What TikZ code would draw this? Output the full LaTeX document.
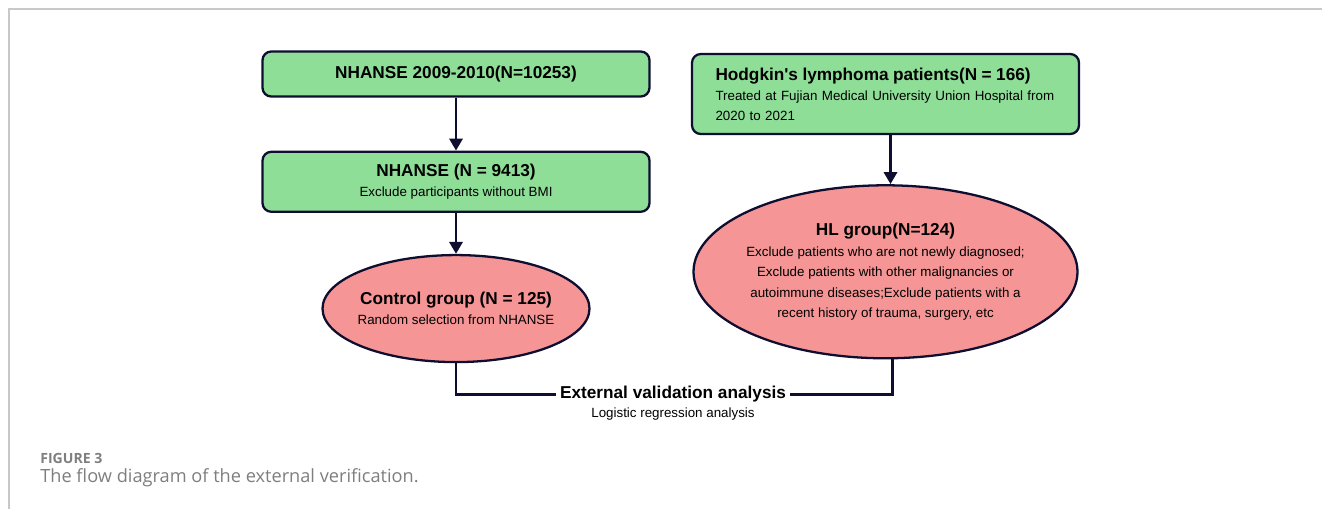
\documentclass[tikz,border=0pt]{standalone}
\usepackage{fontspec}
\setmainfont{Liberation Sans}
\newfontfamily\capfont{Open Sans}
\usetikzlibrary{arrows.meta,positioning,shapes.geometric}

\definecolor{navy}{HTML}{0E0E30}
\definecolor{boxgreen}{HTML}{8EDE98}
\definecolor{boxred}{HTML}{F59595}
\definecolor{framegray}{HTML}{C8C8C8}
\definecolor{capgray}{HTML}{7E7E7E}

\newcommand{\ttl}[1]{{\fontsize{9.8}{12}\selectfont\bfseries #1}}

\begin{document}
\begin{tikzpicture}[
        >=Triangle,
        box/.style={
            draw=navy,
            rounded corners=5pt,
            align=center,
            line width=1.3pt,
            minimum width=7.74cm,
            fill=boxgreen,
            font=\fontsize{7.6}{11.4}\selectfont
        },
        oval/.style={
            draw=navy,
            ellipse,
            align=center,
            line width=1.3pt,
            inner xsep=-2.5pt,
            inner ysep=0pt,
            fill=boxred,
            font=\fontsize{7.6}{11.6}\selectfont
        },
        line/.style={draw=navy, line width=1.7pt, -{Triangle[length=2.4mm,width=2.6mm]}},
        link/.style={draw=navy, line width=1.7pt}
    ]
        \useasboundingbox (0,0) rectangle (26.44,-10.18);
        \draw[framegray, line width=0.6pt] (26.44,-0.18) -- (0.18,-0.18) -- (0.18,-10.18);

        \node[box, minimum height=0.9cm] (nhanes) at (9.12,-1.48) {\ttl{NHANSE 2009-2010(N=10253)}};
        \node[box, minimum height=1.2cm, below=1.06cm of nhanes] (bmi) {\ttl{NHANSE (N = 9413)}\\Exclude participants without BMI};
        \node[oval, minimum width=5.34cm, minimum height=2.14cm, below=0.82cm of bmi] (ctrl) {\ttl{Control group (N = 125)}\\Random selection from NHANSE};

        \node[box, minimum height=1.6cm, minimum width=0pt, text width=6.8cm, inner xsep=0.47cm, align=left] (hodg) at (17.71,-1.88) {\ttl{Hodgkin\textquotesingle s lymphoma patients(N = 166)}\\Treated at Fujian Medical University Union Hospital from\\2020 to 2021};
        \node[oval, minimum width=7.68cm, minimum height=3.46cm, below=0.98cm of hodg] (hl) {\ttl{HL group(N=124)}\\Exclude patients who are not newly diagnosed;\\Exclude patients with other malignancies or\\autoimmune diseases;Exclude patients with a\\recent history of trauma, surgery, etc};

        \node[inner sep=2pt] (ext) at (13.46,-7.88) {\ttl{External validation analysis}};
        \node[font=\fontsize{7.6}{9}\selectfont, below=-0.08cm of ext] (logit) {Logistic regression analysis};

        \draw[line] (nhanes) -- (bmi);
        \draw[line] (bmi) -- (ctrl);
        \draw[line] ([xshift=0.1cm]hodg.south) -- ([xshift=0.1cm]hodg.south |- hl.north);
        \draw[link] (ctrl.south) |- (ext.west);
        \draw[link] ([xshift=0.14cm]hl.south) |- (ext.east);

        \node[anchor=west, inner sep=0pt, text=capgray, font=\capfont\fontsize{8}{10}\selectfont\bfseries] (fig) at (0.8,-9.16) {FIGURE 3};
        \node[anchor=west, inner sep=0pt, text=capgray, font=\capfont\fontsize{10.35}{12}\selectfont] (cap) at (0.8,-9.56) {The flow diagram of the external verification.};
    \end{tikzpicture}
\end{document}
